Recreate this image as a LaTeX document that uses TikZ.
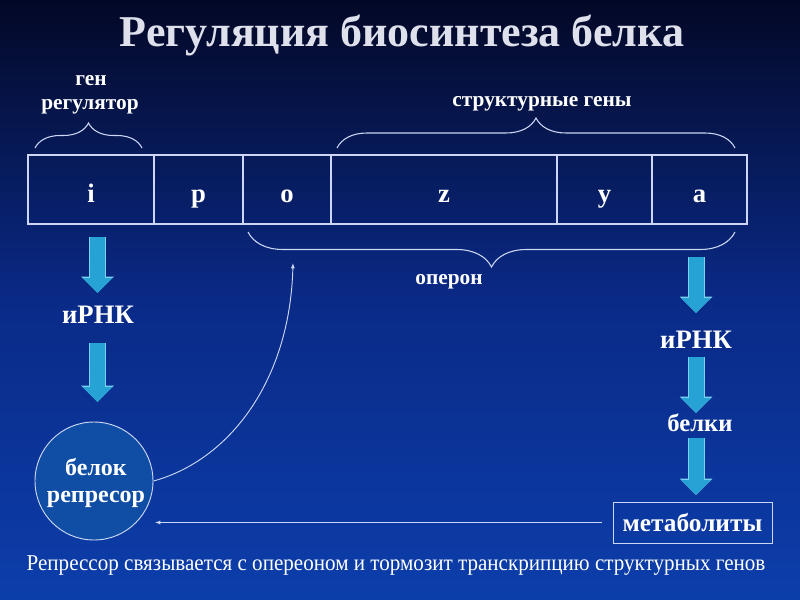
\documentclass[tikz,border=0pt]{standalone}
\usepackage{fontspec}
\setmainfont{Liberation Serif}
\newfontfamily\capfont[FakeStretch=0.93]{Liberation Serif}
\usetikzlibrary{arrows.meta,decorations.pathreplacing,positioning}

\definecolor{bgtop}{RGB}{3,8,38}
\definecolor{bgmid}{RGB}{10,42,135}
\definecolor{bgbot}{RGB}{12,62,170}
\definecolor{pale}{RGB}{205,215,245}
\definecolor{arrblue}{RGB}{38,162,212}
\definecolor{arredge}{RGB}{120,210,240}
\definecolor{repfill}{RGB}{16,78,165}
\definecolor{titlegrey}{RGB}{222,224,236}

\begin{document}
\begin{tikzpicture}[x=0.75pt,y=-0.75pt]
\tikzstyle{every node}+=[inner sep=0pt, text=white, font=\bfseries]
\tikzstyle{cell}=[draw=pale, line width=0.8pt, minimum height=51.75pt, outer sep=0pt, text height=18.75pt, text depth=0pt, font=\bfseries\fontsize{20}{24}\selectfont]
\tikzstyle{small}=[font=\bfseries\fontsize{16}{19}\selectfont]
\tikzstyle{big}=[font=\bfseries\fontsize{20}{24}\selectfont]
\tikzstyle{brc}=[draw=pale, line width=0.8pt, decorate]
\tikzstyle{blockarr}=[draw=arrblue, line width=11.25pt, -{Triangle[width=21.75pt,length=11.25pt]},
  preaction={draw=arredge, line width=12.75pt, -{Triangle[width=23.75pt,length=12.25pt]}}]
\tikzstyle{thinarr}=[draw=pale, line width=0.7pt, -{Latex[length=4pt,width=3pt]}]

% background
\useasboundingbox (0,0) rectangle (800,600);
\shade [top color=bgtop, bottom color=bgbot, middle color=bgmid] (0,0) rectangle (800,600);

% title
\node [font=\bfseries\fontsize{33}{40}\selectfont, text=titlegrey] (title) at (402,35) {Регуляция биосинтеза белка};

% genes
\node [cell, minimum width=94.5pt] (celli) at (91,189.5) {i};
\node [cell, minimum width=66.75pt, right=0pt of celli] (cellp) {p};
\node [cell, minimum width=66pt, right=0pt of cellp] (cello) {o};
\node [cell, minimum width=169.5pt, right=0pt of cello] (cellz) {z};
\node [cell, minimum width=71.25pt, right=0pt of cellz] (celly) {y};
\node [cell, minimum width=71.25pt, right=0pt of celly] (cella) {a};

% braces
\draw [brc, decoration={brace, amplitude=18.75pt}] (35,148) -- (142,148);
\draw [brc, decoration={brace, amplitude=22.5pt}] (337,148) -- (735,148);
\draw [brc, decoration={brace, amplitude=26.25pt}] (735,232) -- (248,232);
\node [small] (gen) at (91,81) {ген};
\node [small] (regul) at (90,107) {регулятор};
\node [small] (struct) at (542,104) {структурные гены};
\node [small] (operon) at (449,282) {оперон};

% left column
\node [big] (irnkL) at (98,315) {иРНК};
\node [circle, draw=pale, line width=0.7pt, fill=repfill, minimum size=88.5pt] (rep) at (94,481) {};
\node [align=center, font=\bfseries\fontsize{18}{20.5}\selectfont] (reptext) at (96,483) {белок\\репресор};
\coordinate (l1a) at (97.5,237);
\coordinate (l1b) at (97.5,293);
\coordinate (l2a) at (97.5,343);
\coordinate (l2b) at (97.5,402);
\draw [blockarr] (l1a) -- (l1b);
\draw [blockarr] (l2a) -- (l2b);

% right column
\node [big] (irnkR) at (696,340) {иРНК};
\node [font=\bfseries\fontsize{18.5}{22}\selectfont] (belki) at (700,423) {белки};
\node [draw=pale, line width=0.7pt, minimum width=119.25pt, minimum height=30.75pt, font=\bfseries\fontsize{19}{23}\selectfont] (metab) at (692.5,522.5) {метаболиты};
\coordinate (r1a) at (696,257);
\coordinate (r1b) at (696,313);
\coordinate (r2a) at (696,357);
\coordinate (r2b) at (696,413);
\coordinate (r3a) at (696,438);
\coordinate (r3b) at (696,495);
\draw [blockarr] (r1a) -- (r1b);
\draw [blockarr] (r2a) -- (r2b);
\draw [blockarr] (r3a) -- (r3b);

% feedback
\coordinate (opin) at (293,263);
\coordinate (repin) at (155,522.5);
\draw [thinarr] (rep.east) .. controls (230,460) and (290,380) .. (opin);
\draw [thinarr, shorten <=8.25pt] (metab.west) -- (repin);

% caption
\node [font=\capfont\fontsize{17}{20}\selectfont] (caption) at (396,566) {Репрессор связывается с опереоном и тормозит транскрипцию структурных генов};
\end{tikzpicture}
\end{document}
